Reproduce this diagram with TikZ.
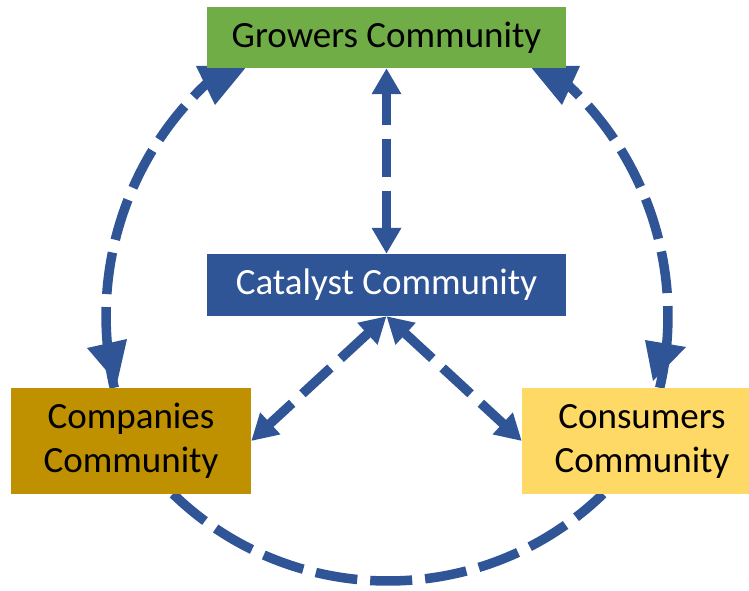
\documentclass[tikz,border=0pt]{standalone}
\usepackage{fontspec}
\setmainfont{Carlito}
\usetikzlibrary{arrows.meta,backgrounds}
\definecolor{cblue}{HTML}{2F5597}
\definecolor{grow}{HTML}{70AD47}
\definecolor{comp}{HTML}{BF9000}
\definecolor{cons}{HTML}{FFD966}
\begin{document}
\begin{tikzpicture}[x=1pt,y=1pt,
  box/.style={inner sep=0pt, font=\fontsize{37}{44}\selectfont, align=center},
  link/.style={draw=cblue, line width=9.5pt, dash pattern=on 38pt off 14pt,
    {Triangle[length=26pt,width=28pt]}-{Triangle[length=26pt,width=28pt]}},
  arcline/.style={draw=cblue, line width=9.5pt, dash pattern=on 42pt off 13pt},
  head/.style={fill=cblue}]
\useasboundingbox (0,0) rectangle (749,590);
\node[box, fill=grow, minimum width=359pt, minimum height=61pt] (gr) at (386.5,552.5) {Growers Community};
\node[box, fill=cblue, text=white, minimum width=359pt, minimum height=62pt] (ca) at (386.5,305) {Catalyst Community};
\node[box, fill=comp, minimum width=240pt, minimum height=106pt] (co) at (131,149) {Companies\\Community};
\node[box, fill=cons, minimum width=240pt, minimum height=106pt] (cs) at (642,149) {Consumers\\Community};
\coordinate (gl) at (224.3,521.9);
\coordinate (grr) at (548.3,522.1);
\coordinate (cob) at (173,96.1);
\begin{scope}[on background layer]
\draw[link] (ca.north) -- (gr.south);
\draw[link] (ca.south) -- (co.east);
\draw[link] (ca.south) -- (cs.west);
\draw[arcline] (gl) arc[start angle=129, end angle=193, radius=319pt];
\draw[arcline] (grr) arc[start angle=51.5, end angle=-13.1, radius=317pt];
\draw[arcline] (cob) arc[start angle=225.9, end angle=314.1, radius=309pt];
\fill[head] (196,524) -- (247,524) -- (215,485) -- cycle;
\fill[head] (530,524) -- (580,524) -- (562,485) -- cycle;
\fill[head] (87,242) -- (127,251) -- (117,207) -- cycle;
\fill[head] (645,250) -- (686,243) -- (653,209) -- cycle;
\end{scope}
\end{tikzpicture}
\end{document}
